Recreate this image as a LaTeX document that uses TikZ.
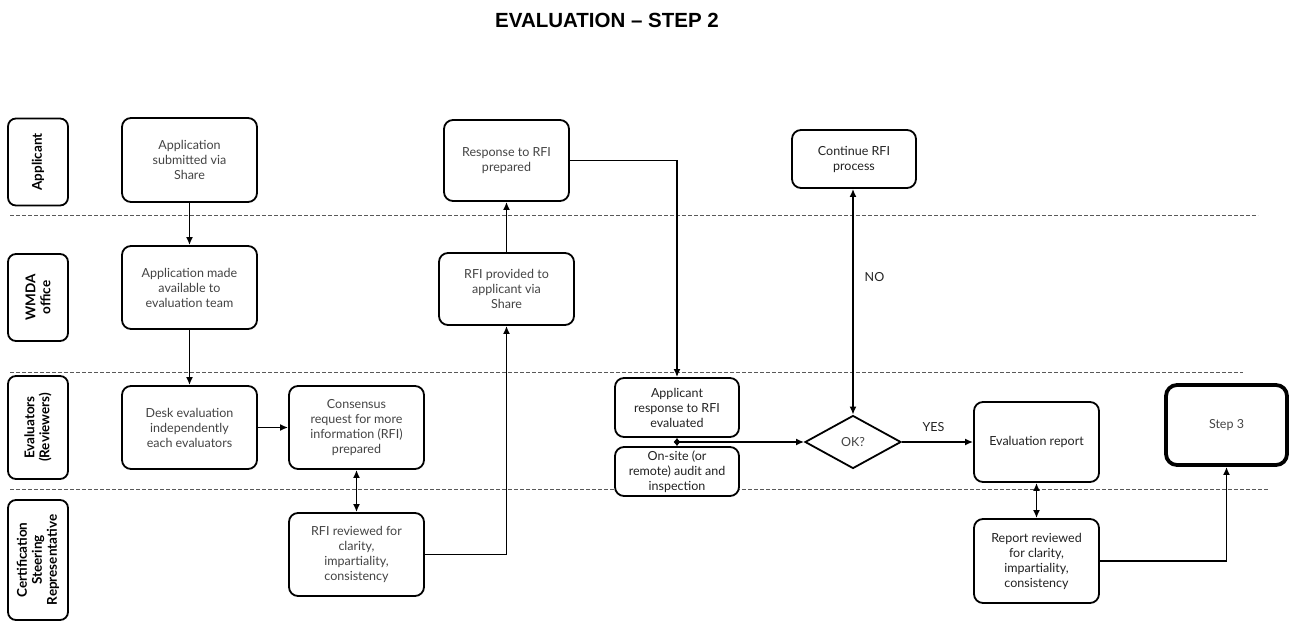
\documentclass[tikz,border=0pt]{standalone}
\usepackage{fontspec}
\setmainfont{Lato}
\newfontfamily\titlefont{Liberation Sans}
\usetikzlibrary{arrows.meta,shapes.geometric}
\definecolor{txtgray}{HTML}{444444}
\definecolor{txtdark}{HTML}{222222}
\tikzset{
	proc/.style={draw,line width=1.8pt,rounded corners=9pt,fill=white,align=center,text=txtgray,font=\fontsize{12.5}{15}\selectfont,inner sep=2pt},
	lane/.style={draw,line width=1.8pt,rounded corners=8pt,align=center,rotate=90,minimum height=60pt,font=\fontsize{13.5}{15}\selectfont\bfseries},
	arr/.style={line width=1.8pt,-{Latex[length=8pt,width=7pt]}},
	darr/.style={line width=1.8pt,{Latex[length=8pt,width=7pt]}-{Latex[length=8pt,width=7pt]}},
	sep/.style={dash pattern=on 4pt off 2pt,black!65,line width=0.9pt},
	lbl/.style={text=txtdark,font=\fontsize{12.5}{15}\selectfont}
}
\begin{document}
\begin{tikzpicture}[x=1pt,y=-1pt]
		\useasboundingbox (0,0) rectangle (1291,624);
		\node[font=\titlefont\fontsize{20.5}{24}\selectfont\bfseries] (title) at (607,20) {EVALUATION \textendash\ STEP 2};

		\foreach \y/\xe in {215/1258,372/1243,489/1269}{
			\draw[sep] (10,\y) -- (\xe,\y);
		}

		\node[lane,minimum width=87pt] (lnapp) at (38,162) {Applicant};
		\node[lane,minimum width=87pt] (lnwmda) at (38,297.5) {WMDA\\office};
		\node[lane,minimum width=103pt] (lneval) at (38,427.5) {Evaluators\\(Reviewers)};
		\node[lane,minimum width=120pt] (lncert) at (38,560) {Certification\\Steering\\Representative};

		\node[proc,minimum width=135pt,minimum height=84pt] (appsub) at (189.5,160) {Application\\submitted via\\Share};
		\node[proc,minimum width=135pt,minimum height=83pt] (appavail) at (189.5,287.5) {Application made\\available to\\evaluation team};
		\node[proc,minimum width=135pt,minimum height=83pt] (desk) at (189.5,427.5) {Desk evaluation\\independently\\each evaluators};
		\node[proc,minimum width=135pt,minimum height=83pt] (consensus) at (356.5,427.5) {Consensus\\request for more\\information (RFI)\\prepared};
		\node[proc,minimum width=135pt,minimum height=83pt] (rfirev) at (356.5,554.5) {RFI reviewed for\\clarity,\\impartiality,\\consistency};
		\node[proc,minimum width=125pt,minimum height=81pt] (resp) at (506.5,160.5) {Response to RFI\\prepared};
		\node[proc,minimum width=135pt,minimum height=72pt] (rfiprov) at (506.5,289) {RFI provided to\\applicant via\\Share};
		\node[proc,text=txtdark,minimum width=124pt,minimum height=59pt] (apresp) at (677,407.5) {Applicant\\response to RFI\\evaluated};
		\node[proc,text=txtdark,minimum width=124pt,minimum height=49pt,inner sep=0pt] (onsite) at (677,471.5) {On-site (or\\remote) audit and\\inspection};
		\node[proc,text=txtdark,minimum width=124pt,minimum height=58pt] (cont) at (854,159) {Continue RFI\\process};
		\node[proc,shape=diamond,rounded corners=0pt,aspect=1.8,inner sep=0pt,minimum width=96pt,minimum height=53pt] (ok) at (853,442) {OK?};
		\node[proc,text=txtdark,minimum width=125pt,minimum height=80pt] (evrep) at (1036.5,442) {Evaluation report};
		\node[proc,text=txtdark,minimum width=125pt,minimum height=84pt] (reprev) at (1036.5,561) {Report reviewed\\for clarity,\\impartiality,\\consistency};
		\node[proc,line width=3.8pt,rounded corners=11pt,minimum width=121pt,minimum height=80pt] (step3) at (1226.5,425) {Step 3};

		\draw[arr] (appsub) -- (appavail);
		\draw[arr] (appavail) -- (desk);
		\draw[arr] (desk) -- (consensus);
		\draw[darr] (consensus) -- (rfirev);
		\draw[arr] (rfirev.east) -| (rfiprov.south);
		\draw[arr] (rfiprov) -- (resp);
		\draw[arr] (resp.east) -| (apresp.north);
		\path (apresp.south) -- (onsite.north) coordinate[midway] (junc);
		\draw[line width=1.8pt,{Latex[length=4pt,width=7pt]}-{Latex[length=4pt,width=7pt]}] (apresp.south) -- (onsite.north);
		\draw[arr] (junc) -- (ok.west);
		\draw[darr] (ok.north) -- (ok.north|-cont.south);
		\draw[arr] (ok.east) -- (evrep.west);
		\draw[darr] (evrep) -- (reprev);
		\draw[arr] (reprev.east) -| (step3.south);

		\node[lbl] (no) at (874.5,277) {NO};
		\node[lbl] (yes) at (933.5,427) {YES};

	\end{tikzpicture}
\end{document}
